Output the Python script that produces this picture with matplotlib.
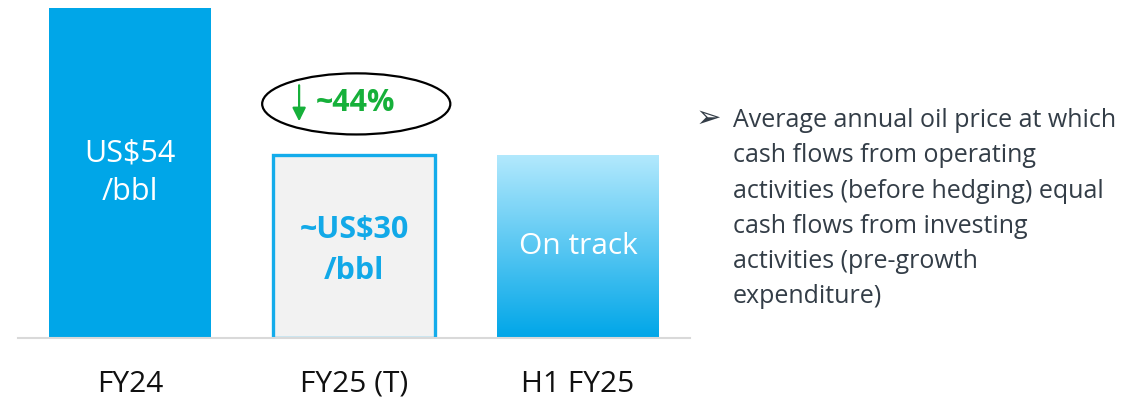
import matplotlib.pyplot as plt
import numpy as np
from matplotlib.patches import Ellipse
from matplotlib.colors import LinearSegmentedColormap

plt.rcParams['font.family'] = ['Open Sans', 'DejaVu Sans']

categories = ["FY24", "FY25 (T)", "H1 FY25"]
values = [54, 30, 30]
bar_labels = ["US$54\n/bbl", "~US$30\n/bbl", "On track"]
change_label = "~44%"
note = ("Average annual oil price at which\ncash flows from operating\n"
        "activities (before hedging) equal\ncash flows from investing\n"
        "activities (pre-growth\nexpenditure)")

blue = "#00A6E8"
x = np.arange(len(categories))

fig = plt.figure(figsize=(11.48, 4.01), dpi=100)
ax = fig.add_axes([18 / 1148, 1 - 338 / 401, 672 / 1148, 338 / 401])

bars = ax.bar(x, values, width=0.72, color=[blue, "#F2F2F2", "none"], zorder=2)
bars[1].set_edgecolor("#14ACEB")
bars[1].set_linewidth(2.4)

# gradient fill for H1 FY25
grad = np.linspace(0, 1, 256).reshape(-1, 1)
cmap = LinearSegmentedColormap.from_list("g", [blue, "#B3E9FD"])
b = bars[2]
im = ax.imshow(grad, cmap=cmap, aspect="auto", origin="lower",
               extent=[b.get_x(), b.get_x() + b.get_width(), 0, b.get_height()], zorder=1)
im.set_clip_path(b)

ax.set_xlim(-0.5, 2.5)
ax.set_ylim(0, 55.3)

# labels inside bars
ax.text(x[0], 27.0, bar_labels[0], ha="center", va="center", color="white",
        fontsize=22, linespacing=1.36)
ax.text(x[1], 14.3, bar_labels[1], ha="center", va="center", color="#12A9E8",
        fontsize=22, fontweight="bold", linespacing=1.45)
ax.text(x[2], 15.0, bar_labels[2], ha="center", va="center", color="white",
        fontsize=21.5)

# change callout
ax.add_patch(Ellipse((x[1] + 0.01, 38.3), 0.84, 10, facecolor="none",
                     edgecolor="black", linewidth=1.6, zorder=3))
ax.annotate("", xy=(x[1] - 0.245, 35.0), xytext=(x[1] - 0.245, 41.8),
            arrowprops=dict(arrowstyle="-|>", color="#16B03A", lw=1.6,
                            mutation_scale=20))
ax.text(x[1] + 0.005, 38.5, change_label, ha="center", va="center",
        color="#16B03A", fontsize=22, fontweight="bold")

for s in ["top", "right", "left"]:
    ax.spines[s].set_visible(False)
ax.spines["bottom"].set_color("#D9D9D9")
ax.spines["bottom"].set_linewidth(1.5)
ax.set_yticks([])
ax.set_xticks(x)
ax.set_xticklabels(categories, fontsize=21.5, color="#111111")
ax.tick_params(axis="x", length=0, pad=23)

fig.text(696 / 1148, 1 - 118 / 401, "\u27a2", fontsize=22, color="#333D47",
         va="center", ha="left", family=["DejaVu Sans"])
fig.text(733 / 1148, 1 - 108 / 401, note, fontsize=18, color="#333D47",
         va="top", ha="left", linespacing=1.54)

fig.savefig("out.png", dpi=100)
